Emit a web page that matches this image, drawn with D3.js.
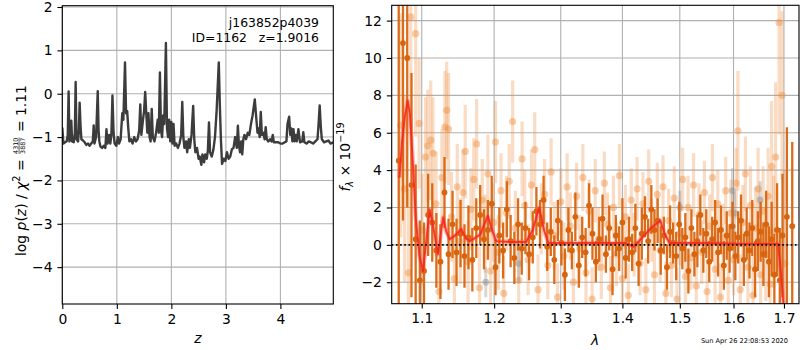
<!DOCTYPE html>
<html><head><meta charset="utf-8">
<script src="https://cdn.jsdelivr.net/npm/d3@7/dist/d3.min.js"></script>
<style>
body{margin:0;background:#fff}
text{font-family:"DejaVu Sans",sans-serif;fill:#000}
</style>
</head><body>
<svg id="chart" width="800" height="350"></svg>
<script>
// ---------- redshift likelihood curve ----------
const zGrid = [0.00,0.02,0.05,0.08,0.10,0.116,0.13,0.15,0.165,0.18,0.21,0.23,0.245,0.26,0.29,0.305,0.318,0.335,0.35,0.38,
  0.41,0.44,0.47,0.50,0.53,0.56,0.576,0.59,0.62,0.65,0.665,0.68,0.70,0.73,0.76,0.79,0.81,0.83,0.86,0.88,
  0.90,0.92,0.94,0.96,0.99,1.02,1.04,1.07,1.10,1.12,1.15,1.17,1.19,1.21,1.23,1.26,1.29,1.32,1.35,1.38,
  1.41,1.43,1.45,1.48,1.50,1.52,1.54,1.56,1.58,1.60,1.62,1.64,1.66,1.69,1.72,1.75,1.77,1.79,1.81,1.83,
  1.85,1.87,1.90,1.92,1.94,1.96,1.98,2.00,2.02,2.04,2.06,2.09,2.12,2.15,2.18,2.20,2.22,2.24,2.27,2.29,
  2.32,2.34,2.37,2.40,2.42,2.44,2.47,2.50,2.52,2.55,2.57,2.60,2.62,2.65,2.67,2.69,2.71,2.74,2.77,2.80,
  2.83,2.87,2.89,2.91,2.93,2.96,2.99,3.02,3.05,3.08,3.11,3.14,3.17,3.20,3.22,3.24,3.26,3.28,3.30,3.32,
  3.34,3.37,3.40,3.43,3.46,3.49,3.53,3.56,3.58,3.60,3.62,3.64,3.66,3.69,3.71,3.73,3.75,3.78,3.81,3.84,
  3.86,3.88,3.92,3.96,4.00,4.04,4.08,4.11,4.13,4.16,4.18,4.20,4.22,4.24,4.26,4.28,4.30,4.33,4.36,4.40,
  4.42,4.44,4.48,4.52,4.56,4.60,4.64,4.68,4.70,4.72,4.74,4.76,4.80,4.84,4.88,4.92,4.97];
const logPz = [-0.78,-1.15,-1.12,-1.10,-0.95,0.05,-1.10,-1.05,-0.62,-1.10,-1.12,-0.90,0.27,-1.05,-1.10,-0.80,-0.21,-0.75,-1.05,-1.08,
  -1.12,-1.18,-1.15,-1.20,-1.15,-1.10,-0.73,-1.15,-1.00,0.06,-0.85,-1.10,-1.22,-1.25,-1.20,-1.25,-0.82,-1.15,-0.95,-1.15,
  -0.95,-0.04,-0.90,-1.15,-1.20,-1.00,-1.15,-1.05,-0.45,-0.60,0.72,-0.45,-0.40,-0.80,-1.10,-1.05,-1.15,-1.00,-1.10,-1.05,
  -0.85,-0.25,-0.95,-0.60,-0.40,0.04,-0.45,-0.90,-0.45,-1.00,-1.10,-0.35,-1.00,-1.10,-0.90,-0.60,-0.90,0.49,-0.85,-1.00,
  -0.50,-0.70,1.17,-0.80,-1.00,-0.60,-1.10,-0.65,-1.15,-0.70,-1.20,-1.15,-1.25,-1.15,-0.95,-0.19,-1.00,-1.25,-1.10,-1.35,
  -1.05,-1.25,-0.95,-0.28,-1.05,-1.35,-1.25,-1.50,-1.45,-1.64,-1.40,-1.58,-1.40,-1.50,-1.30,-0.66,-1.35,-1.45,-1.30,-1.00,
  -0.40,0.72,-0.30,-1.10,-1.62,-1.50,-1.55,-1.35,-1.50,-1.45,-1.28,-1.25,-1.00,-1.25,-0.74,-1.20,-1.35,-1.10,-1.40,-1.05,
  -0.95,-1.05,-0.90,-0.95,-0.70,-0.50,-0.13,-0.60,-0.90,-0.80,-1.00,-0.42,-0.95,-0.90,-1.05,-0.77,-1.05,-1.10,-1.05,-1.10,
  -0.95,-1.12,-1.12,-1.12,-1.15,-1.15,-1.12,-1.10,-0.70,-0.53,-0.95,-0.80,-1.10,-0.82,-1.10,-0.95,-1.10,-0.82,-1.12,-1.10,
  -0.89,-1.12,-1.15,-1.10,-1.12,-1.15,-1.10,-1.05,-0.70,-0.27,-0.75,-1.05,-1.12,-1.10,-1.08,-1.15,-1.12];
const zTicks = [0, 1, 2, 3, 4];
const pzTicks = [-4, -3, -2, -1, 0, 1, 2];

// ---------- combined spectrum (dark points) ----------
const darkWave = [1.070,1.0755,1.081,1.0865,1.092,1.0975,1.103,1.1085,1.114,1.1195,
  1.125,1.1305,1.136,1.1415,1.147,1.1525,1.158,1.1635,1.169,1.1745,
  1.180,1.1855,1.191,1.1965,1.202,1.2075,1.213,1.2185,1.224,1.2295,
  1.235,1.2405,1.246,1.2515,1.257,1.2625,1.268,1.2735,1.279,1.2845,
  1.290,1.2955,1.301,1.3065,1.312,1.3175,1.323,1.3285,1.334,1.3395,
  1.345,1.3505,1.356,1.3615,1.367,1.3725,1.378,1.3835,1.389,1.3945,
  1.400,1.4055,1.411,1.4165,1.422,1.4275,1.433,1.4385,1.444,1.4495,
  1.455,1.4605,1.466,1.4715,1.477,1.4825,1.488,1.4935,1.499,1.5045,
  1.510,1.5155,1.521,1.5265,1.532,1.5375,1.543,1.5485,1.554,1.5595,
  1.565,1.5705,1.576,1.5815,1.587,1.5925,1.598,1.6035,1.609,1.6145,
  1.620,1.6255,1.631,1.6365,1.642,1.6475,1.653,1.6585,1.664,1.6695,
  1.675,1.6805,1.686,1.6915,1.697,1.706,1.717];
const darkFlux = [4.5,10.8,10.0,3.2,0.3,-1.9,-1.4,1.6,1.2,-0.3,
  -0.9,2.8,-0.5,1.1,-0.4,0.6,-0.6,0.4,-0.8,0.9,
  1.6,0.3,0.8,2.2,-1.2,0.5,-0.3,1.9,0.2,-0.7,
  1.1,-0.2,0.9,-0.5,0.4,1.8,1.1,2.4,-0.1,0.7,
  -0.8,1.3,0.1,-1.6,0.8,-0.3,1.5,-1.1,0.4,-0.4,
  2.1,0.6,-0.9,0.3,1.4,-0.5,0.9,-1.3,0.5,-0.2,
  1.2,-0.7,0.3,-0.4,0.9,-1.0,0.6,1.5,0.2,1.9,
  0.8,1.3,-0.3,0.5,-1.2,0.7,0.1,-0.6,1.1,-0.2,
  0.4,-1.4,0.9,-0.5,0.2,1.6,-0.3,0.6,-0.9,0.3,
  1.2,-0.4,0.8,-1.1,0.5,-0.2,1.0,-0.6,0.4,1.3,
  -0.8,0.6,-0.3,0.9,-1.3,0.2,0.7,-0.5,1.1,-0.9,
  0.3,-1.6,0.8,-1.9,0.5,1.5,1.0];
const darkErr = [9.0,9.5,8.0,6.0,4.0,3.2,2.6,2.2,2.1,2.0,
  2.0,1.9,1.9,1.8,1.8,1.8,1.7,1.7,1.7,1.6,
  1.6,1.6,1.6,1.5,1.5,1.5,1.5,1.5,1.4,1.4,
  1.4,1.4,1.4,1.4,1.4,1.3,1.3,1.3,1.3,1.3,
  1.3,1.1,1.2,1.4,1.2,1.0,1.3,1.2,1.1,1.3,
  1.2,1.4,1.1,1.2,1.3,1.0,1.2,1.4,1.1,1.2,
  1.3,1.1,1.2,1.0,1.3,1.2,1.4,1.1,1.2,1.3,
  1.1,1.2,1.3,1.0,1.2,1.4,1.1,1.3,1.2,1.1,
  1.3,1.2,1.0,1.2,1.4,1.1,1.2,1.3,1.1,1.2,
  1.2,1.3,1.3,1.3,1.3,1.3,1.3,1.3,1.4,1.4,
  1.4,1.4,1.5,1.5,1.5,1.6,1.6,1.7,1.8,1.9,
  2.0,2.2,2.5,2.8,3.3,4.8,4.5];

// ---------- individual beam spectra (light points) ----------
const lightWave = [1.0725,1.0775,1.0825,1.0856,1.092,1.0965,1.1005,1.105,1.108,1.112,
  1.115,1.119,1.123,1.127,1.131,1.1335,1.136,1.140,1.144,1.148,
  1.152,1.156,1.159,1.163,1.167,1.171,1.175,1.179,1.183,1.187,
  1.191,1.195,1.199,1.202,1.206,1.210,1.214,1.218,1.222,1.227,
  1.231,1.236,1.241,1.245,1.250,1.255,1.260,1.265,1.270,1.275,
  1.280,1.285,1.290,1.295,1.300,1.305,1.310,1.315,1.320,1.325,
  1.330,1.335,1.340,1.345,1.350,1.355,1.360,1.365,1.370,1.375,
  1.380,1.385,1.390,1.395,1.400,1.405,1.410,1.415,1.420,1.425,
  1.430,1.435,1.440,1.445,1.450,1.455,1.460,1.465,1.470,1.475,
  1.480,1.485,1.490,1.495,1.500,1.505,1.510,1.515,1.520,1.525,
  1.530,1.535,1.540,1.545,1.550,1.555,1.560,1.565,1.570,1.575,
  1.580,1.585,1.590,1.595,1.600,1.605,1.6085,1.613,1.618,1.623,
  1.628,1.633,1.638,1.643,1.648,1.653,1.658,1.663,1.668,1.672,
  1.675,1.679,1.683,1.690,1.696,1.702];
const lightFlux = [6.4,3.0,-1.5,12.2,11.3,6.5,0.8,4.7,5.3,5.6,
  4.9,2.2,-2.5,3.6,6.3,7.2,6.2,1.5,-1.8,3.1,
  0.2,2.8,5.0,-0.9,1.9,3.5,5.4,-2.3,2.4,0.6,
  3.8,-1.4,1.2,5.5,-0.4,2.9,-2.6,1.7,3.4,6.6,
  0.9,-1.9,4.6,2.1,-0.8,3.2,5.1,-2.4,1.4,2.7,
  -1.1,3.9,0.5,-2.8,2.3,-0.6,3.1,1.0,-2.0,2.6,
  -0.2,3.6,-1.5,1.8,-2.9,2.9,0.3,-1.2,3.3,1.1,
  -2.3,2.0,-0.5,3.7,-1.8,1.5,-2.7,2.4,0.0,3.0,
  -1.0,2.2,-2.4,3.4,0.8,-1.6,2.7,-0.3,3.1,-2.6,
  1.3,-1.1,2.5,-2.9,0.6,3.5,-1.7,2.0,-0.7,3.2,
  -2.2,1.6,-0.4,2.8,-2.5,1.0,3.6,-1.3,2.2,-2.8,
  0.4,2.9,-1.9,1.7,-0.8,3.3,6.1,-2.4,1.2,3.8,
  -1.2,2.1,-2.7,0.9,3.0,-1.6,1.8,-0.5,2.6,-2.1,
  4.2,0.7,4.7,11.9,8.0,-1.0];
const lightErr = [6.0,5.0,4.5,6.0,5.5,3.5,3.0,3.2,3.0,3.2,
  3.0,2.8,2.5,2.6,3.0,2.6,3.0,2.4,2.4,2.3,
  2.3,2.3,2.5,2.2,2.2,2.2,2.4,2.2,2.2,2.1,
  2.1,2.1,2.1,2.2,2.0,2.0,2.0,2.0,2.0,2.2,
  2.0,1.9,2.0,1.9,1.9,1.9,2.0,1.9,1.9,1.9,
  1.8,1.8,1.8,1.8,1.8,1.8,1.8,1.8,1.8,1.8,
  1.8,1.8,1.7,1.7,1.7,1.7,1.7,1.7,1.7,1.7,
  1.7,1.7,1.7,1.7,1.7,1.7,1.7,1.7,1.7,1.7,
  1.7,1.7,1.7,1.7,1.7,1.7,1.7,1.7,1.7,1.7,
  1.7,1.7,1.7,1.7,1.7,1.7,1.7,1.7,1.7,1.7,
  1.7,1.7,1.7,1.7,1.7,1.7,1.8,1.8,1.8,1.8,
  1.8,1.8,1.8,1.8,1.9,1.9,3.2,1.9,2.0,2.0,
  2.0,2.1,2.1,2.2,2.2,2.3,2.4,2.5,2.6,2.8,
  3.5,3.0,4.0,6.0,4.5,5.0];

// ---------- other-grism points (grey) ----------
const greyWave = [1.188,1.236,1.500,1.598,1.602,1.652];
const greyFlux = [-2.0,-1.0,2.0,2.9,1.7,2.4];
const greyErr  = [0.8,1.0,0.9,1.2,1.1,1.0];

// ---------- best-fit model ----------
const modelWave = [1.071,1.074,1.078,1.0816,1.0845,1.0875,1.092,1.097,1.1017,1.106,1.1106,1.116,1.1217,1.1285,1.133,1.1375,
  1.145,1.1535,1.160,1.165,1.172,1.180,1.1909,1.197,1.203,1.225,1.247,1.257,1.2667,1.274,1.2807,1.35,1.405,1.4184,1.428,
  1.44,1.449,1.4651,1.474,1.4817,1.55,1.62,1.688,1.694,1.700];
const modelFlux = [3.6,5.4,6.9,7.7,7.0,5.0,1.5,-0.6,-1.4,0.2,1.9,0.8,-0.5,1.46,0.7,0.3,
  0.5,0.85,0.35,0.2,0.35,0.55,1.55,0.8,0.2,0.15,0.15,0.8,2.0,0.8,0.1,0.1,0.1,-0.1,0.2,
  0.6,0.9,1.3,0.5,0.1,0.1,0.05,0.05,-1.5,-3.6];

const waveTicks = [1.1, 1.2, 1.3, 1.4, 1.5, 1.6, 1.7];
const fluxTicks = [-2, 0, 2, 4, 6, 8, 10, 12];

// ---------- layout ----------
const svg = d3.select("#chart");
const FS = 13.9, TICK = 4.9, GRID = "#b0b0b0";
const L = {x0: 62.3, x1: 333.3, y0: 5.7, y1: 304};
const R = {x0: 391.7, x1: 799, y0: 5.3, y1: 303.7};

const xz = d3.scaleLinear().domain([0, 4.97]).range([L.x0, L.x1]);
const ypz = d3.scaleLinear().domain([-4.85, 2.03]).range([L.y1, L.y0]);
const xw = d3.scaleLog().domain([1.061, 1.731]).range([R.x0, R.x1]);
const yf = d3.scaleLinear().domain([-3.15, 12.82]).range([R.y1, R.y0]);

const defs = svg.append("defs");
[["clipL", L], ["clipR", R]].forEach(([id, b]) => {
  defs.append("clipPath").attr("id", id).append("rect")
    .attr("x", b.x0).attr("y", b.y0).attr("width", b.x1 - b.x0).attr("height", b.y1 - b.y0);
});

function grid(b, xs, xt, ys, yt) {
  const g = svg.append("g").attr("stroke", GRID).attr("stroke-width", 1.1);
  xt.forEach(v => g.append("line").attr("x1", xs(v)).attr("x2", xs(v)).attr("y1", b.y0).attr("y2", b.y1));
  yt.forEach(v => g.append("line").attr("y1", ys(v)).attr("y2", ys(v)).attr("x1", b.x0).attr("x2", b.x1));
}
function axes(b, xs, xt, xf, ys, yt, yf2) {
  const gx = svg.append("g").attr("transform", `translate(0,${b.y1})`)
    .call(d3.axisBottom(xs).tickValues(xt).tickFormat(xf).tickSize(TICK).tickPadding(TICK).tickSizeOuter(0));
  const gy = svg.append("g").attr("transform", `translate(${b.x0},0)`)
    .call(d3.axisLeft(ys).tickValues(yt).tickFormat(yf2).tickSize(TICK).tickPadding(TICK).tickSizeOuter(0));
  [gx, gy].forEach(g => {
    g.select(".domain").remove();
    g.selectAll("line").attr("stroke", "#000").attr("stroke-width", 1.1);
    g.selectAll("text").attr("font-size", FS).attr("font-family", "DejaVu Sans").attr("fill", "#000");
  });
  svg.append("rect").attr("x", b.x0).attr("y", b.y0).attr("width", b.x1 - b.x0).attr("height", b.y1 - b.y0)
    .attr("fill", "none").attr("stroke", "#000").attr("stroke-width", 1.1);
}

// ---------- left panel: p(z) ----------
grid(L, xz, zTicks, ypz, pzTicks);
svg.append("path")
  .datum(d3.range(Math.min(zGrid.length, logPz.length)))
  .attr("clip-path", "url(#clipL)")
  .attr("fill", "none").attr("stroke", "#3c3c3c").attr("stroke-width", 2.4).attr("stroke-linejoin", "round")
  .attr("d", d3.line().x(i => xz(zGrid[i])).y(i => ypz(logPz[i])));
axes(L, xz, zTicks, d3.format("d"), ypz, pzTicks, d3.format("d"));

// object name / id / redshift annotation (two lines in one text block)
const ann = svg.append("text").attr("text-anchor", "end").attr("font-size", 12.4)
  .style("white-space", "pre");
ann.append("tspan").attr("x", 319).attr("y", 27.3).text("j163852p4039");
ann.append("tspan").attr("x", 319).attr("y", 41.7).text("ID=1162   z=1.9016");

svg.append("text").attr("x", (L.x0 + L.x1) / 2).attr("y", 343).attr("text-anchor", "middle")
  .attr("font-size", FS).attr("font-style", "italic").text("z");

// rotated y label with a stacked fraction
const yl = svg.append("g").attr("transform", "translate(25.5,256) rotate(-90)");
const t1 = yl.append("text").attr("font-size", FS).style("white-space", "pre");
t1.append("tspan").text("log ");
t1.append("tspan").attr("font-style", "italic").text("p");
t1.append("tspan").text("(");
t1.append("tspan").attr("font-style", "italic").text("z");
t1.append("tspan").text(") / ");
t1.append("tspan").attr("font-style", "italic").text("χ");
t1.append("tspan").attr("font-size", 9.7).attr("dy", -5.5).text("2");
t1.append("tspan").attr("dy", 5.5).text(" = ");
const w1 = t1.node().getComputedTextLength();
const fr = yl.append("g").attr("transform", `translate(${w1 + 1},0)`);
fr.append("text").attr("x", 8.3).attr("y", -7.6).attr("font-size", 6.4).attr("text-anchor", "middle").text("4310");
fr.append("text").attr("x", 8.3).attr("y", -0.6).attr("font-size", 6.4).attr("text-anchor", "middle").text("3887");
fr.append("line").attr("x1", 0).attr("x2", 16.6).attr("y1", -6.4).attr("y2", -6.4).attr("stroke", "#000").attr("stroke-width", 0.6);
yl.append("text").attr("x", w1 + 18.5).attr("font-size", FS).style("white-space", "pre").text(" = 1.11");

// ---------- right panel: spectrum ----------
grid(R, xw, waveTicks, yf, fluxTicks);
const plot = svg.append("g").attr("clip-path", "url(#clipR)");

function errPoints(wave, flux, err, barColor, barOp, barW, dotColor, dotOp, r) {
  const idx = d3.range(Math.min(wave.length, flux.length, err.length));
  const g = plot.append("g");
  g.selectAll("line").data(idx).join("line")
    .attr("x1", i => xw(wave[i])).attr("x2", i => xw(wave[i]))
    .attr("y1", i => yf(flux[i] - err[i])).attr("y2", i => yf(flux[i] + err[i]))
    .attr("stroke", barColor).attr("stroke-opacity", barOp).attr("stroke-width", barW);
  g.selectAll("circle").data(idx).join("circle")
    .attr("cx", i => xw(wave[i])).attr("cy", i => yf(flux[i])).attr("r", r)
    .attr("fill", dotColor).attr("fill-opacity", dotOp);
}
errPoints(lightWave, lightFlux, lightErr, "#ee8a3a", 0.3, 3.2, "#ee8a3a", 0.42, 3.6);
errPoints(greyWave, greyFlux, greyErr, "#8c8c8c", 0.35, 3.0, "#8c8c8c", 0.45, 3.4);
errPoints(darkWave, darkFlux, darkErr, "#d8640e", 0.95, 2.3, "#d8640e", 1, 2.9);

const mLine = d3.line().x(i => xw(modelWave[i])).y(i => yf(modelFlux[i]));
const mIdx = d3.range(Math.min(modelWave.length, modelFlux.length));
plot.append("path").datum(mIdx).attr("d", mLine).attr("fill", "none")
  .attr("stroke", "#ff4a3a").attr("stroke-opacity", 0.35).attr("stroke-width", 4.5).attr("stroke-linejoin", "round");
plot.append("path").datum(mIdx).attr("d", mLine).attr("fill", "none")
  .attr("stroke", "#f3261a").attr("stroke-opacity", 0.85).attr("stroke-width", 1.9).attr("stroke-linejoin", "round");

plot.append("line").attr("x1", R.x0).attr("x2", R.x1).attr("y1", yf(0)).attr("y2", yf(0))
  .attr("stroke", "#000").attr("stroke-width", 1.6).attr("stroke-dasharray", "1.6,2.6");

axes(R, xw, waveTicks, d3.format(".1f"), yf, fluxTicks, d3.format("d"));

svg.append("text").attr("x", 595).attr("y", 345).attr("text-anchor", "middle")
  .attr("font-size", FS).attr("font-style", "italic").text("λ");

const yr = svg.append("g").attr("transform", "translate(350,157) rotate(-90)");
const t2 = yr.append("text").attr("font-size", FS).attr("text-anchor", "middle").style("white-space", "pre");
t2.append("tspan").attr("font-style", "italic").text("f");
t2.append("tspan").attr("font-style", "italic").attr("font-size", 9.7).attr("dy", 2.5).text("λ");
t2.append("tspan").attr("dy", -2.5).text(" × 10");
t2.append("tspan").attr("font-size", 9.7).attr("dy", -6).text("−19");

svg.append("text").attr("x", 788).attr("y", 342.5).attr("text-anchor", "end")
  .attr("font-size", 6.6).text("Sun Apr 26 22:08:53 2020");
</script>
</body></html>
